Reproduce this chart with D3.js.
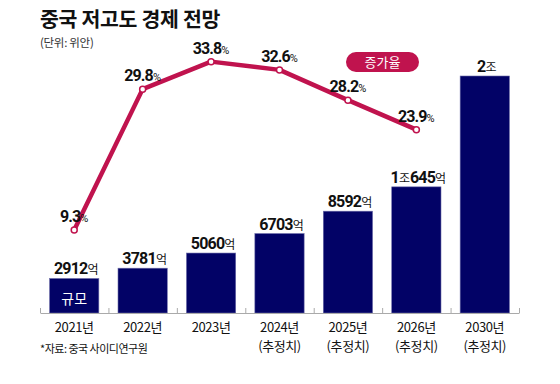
<!DOCTYPE html>
<html>
<head>
<meta charset="utf-8">
<script src="https://cdn.jsdelivr.net/npm/d3@7"></script>
<style>
  body { margin: 0; background: #fff; }
  svg { display: block; }
</style>
</head>
<body>
<div class="d3-content"></div>
<script>
// data
const years = ['2021', '2022', '2023', '2024', '2025', '2026', '2030'];
const isEstimate = [false, false, false, true, true, true, true];
const marketSize = [2912, 3781, 5060, 6703, 8592, 10645, 20000]; // 억 위안
const growthYears = ['2021', '2022', '2023', '2024', '2025', '2026'];
const growthRate = [9.3, 29.8, 33.8, 32.6, 28.2, 23.9]; // %

// dimensions
const width = 560;
const height = 384;
const axisY = 313;

// colors
const navy = '#020266';
const crimson = '#c0134e';
const ink = '#111';
const axisGray = '#aaa';

const numFont = 'Roboto, "Liberation Sans", sans-serif';
const krFont = '"Noto Sans CJK KR", sans-serif';

const svg = d3.select('.d3-content')
  .append('svg')
    .attr('width', width)
    .attr('height', height);

// scales
const xScale = d3.scaleBand()
  .domain(years)
  .range([40, 519])
  .paddingInner(0.28)
  .paddingOuter(0.14);

const yScale = d3.scaleLinear()
  .domain([0, 20000])
  .range([axisY, 76]);

const rateScale = d3.scaleLinear()
  .domain([0, 40])
  .range([294, 19]);

const slotScale = d3.scaleLinear()
  .domain([0, years.length])
  .range([40, 519]);

const center = d => xScale(d) + xScale.bandwidth() / 2;

// title
svg.append('text')
  .text('중국 저고도 경제 전망')
  .attr('x', 40)
  .attr('y', 27)
  .attr('font-family', krFont)
  .attr('font-weight', 700)
  .attr('font-size', 20.5)
  .attr('letter-spacing', -0.3)
  .attr('fill', ink);

svg.append('text')
  .text('(단위: 위안)')
  .attr('x', 40)
  .attr('y', 47)
  .attr('font-family', krFont)
  .attr('font-size', 11.5)
  .attr('letter-spacing', -0.3)
  .attr('fill', '#333');

// bars
svg.append('g')
  .selectAll('rect')
  .data(years)
  .join('rect')
    .attr('x', d => xScale(d))
    .attr('y', (d, i) => yScale(marketSize[i]))
    .attr('width', xScale.bandwidth())
    .attr('height', (d, i) => axisY - yScale(marketSize[i]))
    .attr('fill', navy)
    .attr('stroke', '#6b6ba8')
    .attr('stroke-width', 0.6);

// axis with ticks between bars
const bottomAxis = d3.axisBottom(slotScale)
  .tickValues(d3.range(years.length + 1))
  .tickSize(-5)
  .tickSizeOuter(0)
  .tickFormat('');
const axisG = svg.append('g')
  .attr('transform', `translate(0, ${axisY})`)
  .call(bottomAxis);
axisG.selectAll('path, line').attr('stroke', axisGray);

// year labels
svg.append('g')
  .selectAll('text')
  .data(years)
  .join('text')
    .text(d => d + '년')
    .attr('x', center)
    .attr('y', 332)
    .attr('text-anchor', 'middle')
    .attr('font-family', krFont)
    .attr('font-size', 13)
    .attr('letter-spacing', -0.4)
    .attr('fill', ink);

svg.append('g')
  .selectAll('text')
  .data(years.filter((d, i) => isEstimate[i]))
  .join('text')
    .text('(추정치)')
    .attr('x', center)
    .attr('y', 351)
    .attr('text-anchor', 'middle')
    .attr('font-family', krFont)
    .attr('font-size', 13)
    .attr('letter-spacing', -0.4)
    .attr('fill', ink);

// bar value labels
const sizeParts = v => {
  const jo = Math.floor(v / 10000);
  const eok = v % 10000;
  const parts = [];
  if (jo > 0) parts.push([String(jo), true], ['조', false]);
  if (eok > 0) parts.push([String(eok), true], ['억', false]);
  return parts;
};

const valueLabels = svg.append('g')
  .selectAll('text')
  .data(years)
  .join('text')
    .attr('x', d => center(d) + 2)
    .attr('y', (d, i) => yScale(marketSize[i]) - 4)
    .attr('text-anchor', 'middle')
    .attr('fill', ink);
valueLabels.each(function(d, i) {
  const t = d3.select(this);
  sizeParts(marketSize[i]).forEach(([s, isNum]) => {
    t.append('tspan')
      .text(s)
      .attr('font-family', isNum ? numFont : krFont)
      .attr('font-weight', isNum ? 700 : 400)
      .attr('font-size', isNum ? 16 : 12)
      .attr('letter-spacing', isNum ? -0.8 : 0);
  });
});

// label inside first bar
svg.append('text')
  .text('규모')
  .attr('x', center(years[0]))
  .attr('y', 304)
  .attr('text-anchor', 'middle')
  .attr('font-family', krFont)
  .attr('font-size', 14)
  .attr('fill', '#fff');

// growth line
const lineGen = d3.line()
  .x(d => center(d))
  .y((d, i) => rateScale(growthRate[i]));

svg.append('path')
  .attr('d', lineGen(growthYears))
  .attr('fill', 'none')
  .attr('stroke', crimson)
  .attr('stroke-width', 4.5)
  .attr('stroke-linejoin', 'round');

svg.append('g')
  .selectAll('circle')
  .data(growthYears)
  .join('circle')
    .attr('cx', center)
    .attr('cy', (d, i) => rateScale(growthRate[i]))
    .attr('r', 3)
    .attr('fill', '#fff')
    .attr('stroke', crimson)
    .attr('stroke-width', 1.5);

const rateLabels = svg.append('g')
  .selectAll('text')
  .data(growthYears)
  .join('text')
    .attr('x', center)
    .attr('y', (d, i) => rateScale(growthRate[i]) - 8)
    .attr('text-anchor', 'middle')
    .attr('fill', ink);
rateLabels.append('tspan')
  .text((d, i) => growthRate[i].toFixed(1))
  .attr('font-family', numFont)
  .attr('font-weight', 700)
  .attr('font-size', 16)
  .attr('letter-spacing', -0.9);
rateLabels.append('tspan')
  .text('%')
  .attr('font-family', numFont)
  .attr('font-size', 11);

// legend pill
const legend = svg.append('g')
  .attr('transform', 'translate(346, 52)');
legend.append('rect')
  .attr('width', 73)
  .attr('height', 20)
  .attr('rx', 10)
  .attr('fill', crimson);
legend.append('text')
  .text('증가율')
  .attr('x', 36.5)
  .attr('y', 15)
  .attr('text-anchor', 'middle')
  .attr('font-family', krFont)
  .attr('font-size', 13)
  .attr('fill', '#fff');

// source
svg.append('text')
  .text('*자료: 중국 사이디연구원')
  .attr('x', 40)
  .attr('y', 353)
  .attr('font-family', krFont)
  .attr('font-size', 11)
  .attr('letter-spacing', -0.5)
  .attr('fill', ink);
</script>
</body>
</html>
